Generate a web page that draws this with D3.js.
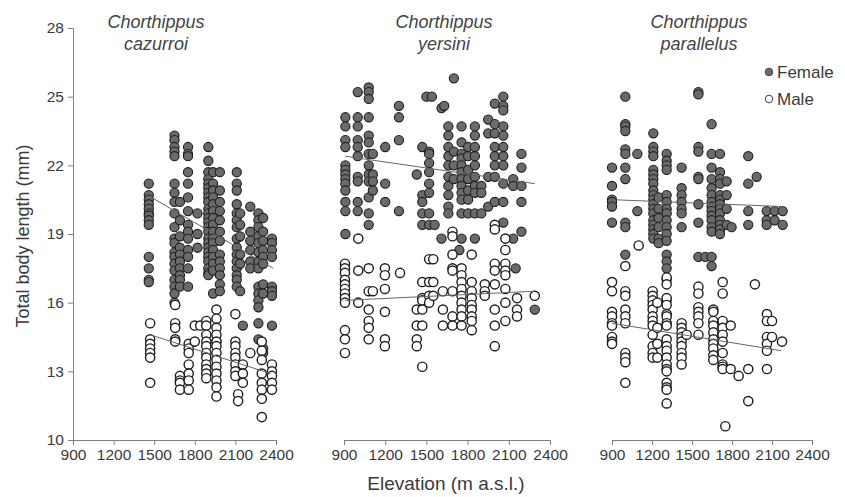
<!DOCTYPE html>
<html>
<head>
<meta charset="utf-8">
<script src="https://cdn.jsdelivr.net/npm/d3@7"></script>
<style>
  body { margin: 0; background: #fff; }
  svg { font-family: "Liberation Sans", Arial, sans-serif; }
</style>
</head>
<body>
<div id="chart"></div>
<script>
// columns: [elevation, [body lengths...]]
const cazurroiFemale = [
  [1460, [21.2, 20.7, 20.5, 20.3, 20.1, 19.9, 19.8, 19.6, 19.4, 18.0, 17.5, 17.0, 16.9]],
  [1650, [23.3, 23.1, 22.8, 22.6, 22.4, 21.2, 20.8, 20.4, 19.9, 19.3, 18.8, 18.6, 18.2, 18.0, 17.7, 17.4, 17.0, 16.7, 16.4, 16.0]],
  [1690, [20.4, 19.6, 18.9, 18.4, 18.1, 17.8, 17.5, 17.2, 17.0, 16.7]],
  [1750, [22.8, 22.5, 22.4, 21.7, 21.2, 20.6, 20.0, 19.4, 19.1, 18.8, 18.3, 18.0, 17.5, 16.7]],
  [1820, [19.9, 19.0, 18.4]],
  [1900, [22.8, 22.2, 21.7, 21.4, 21.2, 21.0, 20.8, 20.6, 20.4, 20.1, 19.9, 19.7, 19.5, 19.3, 19.1, 18.8, 18.6, 18.4, 18.2, 18.0, 17.8, 17.5, 17.3, 17.2]],
  [1935, [21.7, 21.2, 20.9, 20.6, 20.3, 20.0, 19.7, 19.4, 19.1, 18.8, 18.6, 18.3, 18.0, 17.7, 17.4, 16.4]],
  [1960, [14.3]],
  [1985, [21.7, 20.9, 20.4, 20.0, 19.6, 19.1, 18.7, 18.1, 17.8, 17.5, 17.2, 16.8, 16.5]],
  [2110, [21.7, 21.2, 20.9, 20.3, 19.9, 19.6, 19.3, 18.8, 18.4, 18.1, 17.8, 17.5, 17.2, 17.0, 16.7]],
  [2135, [19.9, 19.4, 18.9, 18.1, 17.7, 16.5]],
  [2155, [15.0]],
  [2210, [20.2, 19.1, 18.7, 18.3, 17.8, 17.5]],
  [2270, [19.9, 19.6, 19.3, 18.9, 18.6, 18.2, 17.8, 17.5, 16.7, 16.4, 16.1, 15.8, 15.1, 14.4]],
  [2305, [19.7, 19.1, 18.7, 18.3, 18.0, 17.7, 16.8, 16.4, 14.0, 13.8]],
  [2370, [18.8, 18.6, 18.3, 18.0, 16.7, 16.5, 16.3, 15.0]]
];
const cazurroiMale = [
  [1470, [15.1, 14.4, 14.2, 14.0, 13.8, 13.6, 12.5]],
  [1655, [15.9, 15.1, 14.9, 14.4, 14.3]],
  [1690, [12.8, 12.6, 12.5, 12.2]],
  [1755, [14.2, 14.0, 13.8, 13.3, 12.9, 12.6, 12.2]],
  [1800, [15.0, 14.3]],
  [1840, [15.0]],
  [1885, [15.2, 15.0, 14.6, 14.3, 14.1, 13.8, 13.6, 13.3, 13.1, 12.9, 12.7]],
  [1960, [15.7, 15.3, 14.9, 14.6, 14.3, 14.1, 13.8, 13.5, 13.2, 12.9, 12.6, 12.3, 11.9]],
  [2100, [15.5, 14.3, 14.1, 13.8, 13.6, 13.3, 13.0, 12.8]],
  [2120, [12.0, 11.7]],
  [2155, [13.3, 12.9, 12.5]],
  [2210, [13.8]],
  [2295, [14.3, 13.9, 13.5, 12.9, 12.5, 12.2, 11.8, 11.0]],
  [2370, [13.3, 13.0, 12.8, 12.5, 12.2]]
];

const yersiniFemale = [
  [910, [24.1, 23.7, 23.1, 22.8, 22.0, 21.8, 21.6, 21.4, 21.2, 20.9, 20.4, 20.0, 19.0]],
  [1000, [25.2, 24.1, 23.7, 23.1, 22.8, 22.4, 21.5, 21.3, 20.4, 20.0]],
  [1080, [25.4, 25.2, 24.9, 24.1, 23.3, 23.0, 22.5, 22.0, 21.6, 21.3, 20.6, 19.9, 19.4]],
  [1110, [22.5, 21.6, 21.3, 20.9]],
  [1200, [22.8, 21.2, 20.4]],
  [1300, [24.6, 24.1, 23.1, 20.0]],
  [1430, [21.6]],
  [1470, [22.8, 20.7, 20.4, 19.9, 19.4]],
  [1500, [25.0]],
  [1520, [22.6, 22.5, 22.1, 21.7, 21.2, 20.8, 19.9, 19.4]],
  [1540, [25.0]],
  [1560, [19.4]],
  [1610, [24.5, 18.8]],
  [1630, [24.6]],
  [1660, [23.7, 23.3, 22.8, 22.4, 22.0, 21.5, 21.1, 20.7, 20.2, 19.9]],
  [1700, [25.8, 22.6, 22.0, 21.4]],
  [1740, [18.3]],
  [1756, [23.7, 23.0, 22.5, 22.3, 22.0, 21.7, 21.4, 21.1, 20.8, 20.5, 19.9, 18.8]],
  [1804, [22.8, 22.4, 21.8, 21.4, 20.9, 20.5, 19.9]],
  [1853, [23.7, 23.3, 22.8, 22.4, 22.0, 21.5, 21.1, 20.8, 19.9, 18.8]],
  [1900, [21.1, 20.8, 19.9]],
  [1950, [24.0, 23.4, 21.5, 20.2]],
  [1998, [24.7, 23.8, 23.4, 22.8, 22.4, 22.0, 21.5, 20.4]],
  [2060, [25.0, 24.6, 24.4, 23.7, 23.3, 22.8, 22.4, 22.0, 21.2, 20.4, 19.5]],
  [2132, [21.4, 21.1, 18.8]],
  [2150, [17.5]],
  [2192, [22.5, 21.9, 21.1, 20.4, 19.1]],
  [2289, [15.7]]
];
const yersiniMale = [
  [907, [17.7, 17.5, 17.3, 17.0, 16.8, 16.6, 16.4, 16.2, 16.0, 14.8, 14.4, 13.8]],
  [1004, [18.8, 17.4, 16.0]],
  [1080, [17.5, 16.5, 15.7, 15.2, 14.9, 14.4]],
  [1110, [16.5]],
  [1198, [17.5, 17.2, 16.6, 15.6, 14.4, 14.1]],
  [1308, [17.3]],
  [1430, [15.7, 15.0, 14.4, 14.1]],
  [1470, [16.9, 16.2, 16.1, 15.7, 15.0, 13.2]],
  [1520, [17.9, 16.9, 16.3, 16.0]],
  [1550, [17.9, 16.9, 16.3]],
  [1620, [16.5, 15.7, 15.0]],
  [1690, [19.1, 18.9, 18.1, 17.5, 17.4, 16.5, 15.4, 15.0]],
  [1756, [17.5, 17.2, 16.9, 16.6, 16.3, 16.0, 15.7, 15.4, 15.0]],
  [1830, [18.1, 16.9, 16.5, 16.2, 15.9, 15.7, 15.4, 15.2, 14.8]],
  [1925, [16.8, 16.5, 16.3]],
  [1998, [19.4, 19.2, 17.7, 17.4, 16.8, 15.7, 15.0, 14.1]],
  [2075, [18.8, 18.3, 17.7, 17.4, 17.2, 16.6, 16.0, 15.2]],
  [2160, [16.2, 15.7, 15.4]],
  [2289, [16.3]]
];

const parallelusFemale = [
  [900, [21.9, 21.1, 20.5, 20.4, 20.2, 19.5, 16.9]],
  [1000, [25.0, 23.8, 23.7, 23.5, 22.7, 22.5, 21.9, 21.4, 19.5, 19.3, 18.1]],
  [1090, [22.5, 20.0]],
  [1210, [23.4, 22.8, 22.6, 22.4, 21.8, 21.6, 21.4, 21.2, 20.9, 20.7, 20.5, 20.3, 20.1, 19.9, 19.6, 19.4, 19.2, 19.0, 18.8]],
  [1250, [20.6, 20.1, 19.7, 19.3, 18.8, 18.6]],
  [1310, [22.5, 22.2, 22.0, 21.8, 20.7, 20.4, 20.1, 19.9, 19.6, 19.3, 19.0, 18.7, 18.1, 17.8, 17.5, 17.0, 16.1]],
  [1422, [21.9, 21.0, 20.7, 20.4, 20.1, 19.9, 19.3]],
  [1548, [25.2, 25.1, 22.8, 22.6, 21.5, 21.4, 20.3, 19.5, 18.0]],
  [1600, [18.0]],
  [1647, [23.8, 22.5, 21.9, 21.4, 21.0, 20.7, 20.4, 20.2, 20.0, 19.8, 19.6, 19.3, 19.1, 18.0, 17.6]],
  [1710, [22.5, 21.7, 21.4, 21.2, 20.7, 20.5, 20.3, 20.1, 19.9, 19.6, 19.4, 19.2, 19.0]],
  [1760, [21.3, 20.7, 20.1, 19.4]],
  [1797, [19.3]],
  [1922, [22.4, 21.2, 20.0, 19.4]],
  [1985, [21.5]],
  [2060, [20.0, 19.6, 19.4]],
  [2120, [20.0, 19.6]],
  [2180, [20.0, 19.4]]
];
const parallelusMale = [
  [900, [16.9, 16.5, 15.6, 15.4, 15.1, 15.0, 14.5, 14.3, 14.2]],
  [1000, [17.6, 16.5, 16.3, 15.7, 15.4, 15.1, 13.8, 13.6, 13.4, 12.5]],
  [1100, [18.5]],
  [1205, [16.5, 16.3, 16.1, 15.9, 15.7, 15.4, 15.2, 15.0, 14.6, 14.1, 13.8, 13.6]],
  [1240, [16.0, 14.9, 14.2, 13.6]],
  [1310, [17.1, 16.8, 16.2, 15.9, 15.5, 15.4, 15.1, 15.0, 14.4, 14.1, 13.9, 13.6, 13.3, 13.1, 13.0, 12.5, 12.3, 12.2, 11.6]],
  [1422, [15.1, 14.9, 14.7, 14.5, 14.3, 14.1, 13.8, 13.6, 13.3]],
  [1460, [14.6]],
  [1548, [16.7, 16.4, 15.8, 15.6, 15.4, 15.1, 14.6]],
  [1660, [15.7, 15.6, 15.2, 15.0, 14.7, 14.4, 14.2, 14.0, 13.7, 13.5]],
  [1730, [16.9, 16.4, 15.2, 14.9, 14.6, 14.3, 13.8, 13.3, 13.2, 13.1]],
  [1750, [10.6]],
  [1790, [15.0, 13.1]],
  [1850, [12.8]],
  [1922, [13.1, 11.7]],
  [1972, [16.8]],
  [2062, [15.5, 15.2, 14.5, 14.2, 13.9, 13.1]],
  [2100, [15.2, 14.5]],
  [2175, [14.3]]
];

// fitted trend lines, end points: [[elev, len], [elev, len]]
const cazurroiFits = { female: [[1480, 20.6], [2380, 17.5]], male: [[1470, 14.6], [2360, 12.9]] };
const yersiniFits = { female: [[907, 22.4], [2289, 21.2]], male: [[907, 16.1], [2289, 16.5]] };
const parallelusFits = { female: [[900, 20.5], [2180, 20.2]], male: [[900, 15.1], [2170, 13.9]] };

const species = [
  { name: "cazurroi", female: cazurroiFemale, male: cazurroiMale, fits: cazurroiFits, range: [73, 276], tx: 156 },
  { name: "yersini", female: yersiniFemale, male: yersiniMale, fits: yersiniFits, range: [344, 550], tx: 444 },
  { name: "parallelus", female: parallelusFemale, male: parallelusMale, fits: parallelusFits, range: [612, 812], tx: 699 }
];

const xTicks = [900, 1200, 1500, 1800, 2100, 2400];
const yTicks = [10, 13, 16, 19, 22, 25, 28];

const width = 845, height = 497;
const femaleFill = "#6a6a6a", stroke = "#1e1e1e", axisColor = "#808080", textColor = "#3a3a3a";

const flat = cols => cols.flatMap(([e, ls]) => ls.map(l => ({ e, l })));

const svg = d3.select("#chart").append("svg")
  .attr("width", width)
  .attr("height", height);

const y = d3.scaleLinear().domain([10, 28]).range([440, 28]);

// y axis only on first panel
const yAxis = svg.append("g")
  .attr("transform", `translate(${species[0].range[0]},0)`)
  .call(d3.axisLeft(y).tickValues(yTicks).tickFormat(d3.format("d")).tickSize(5).tickPadding(4));
yAxis.selectAll("path, line").attr("stroke", axisColor);
yAxis.selectAll("text").attr("fill", textColor).style("font-size", "15.5px");

svg.append("text")
  .attr("transform", "translate(29,236) rotate(-90)")
  .attr("text-anchor", "middle")
  .attr("fill", textColor)
  .style("font-size", "18px")
  .text("Total body length (mm)");

species.forEach(sp => {
  const x = d3.scaleLinear().domain([900, 2400]).range(sp.range);
  const g = svg.append("g");

  const xAxis = g.append("g")
    .attr("transform", "translate(0,440)")
    .call(d3.axisBottom(x).tickValues(xTicks).tickFormat(d3.format("d")).tickSize(5).tickPadding(4));
  xAxis.selectAll("path, line").attr("stroke", axisColor);
  xAxis.selectAll("text").attr("fill", textColor).style("font-size", "15.5px");

  const title = g.append("text")
    .attr("text-anchor", "middle")
    .attr("fill", "#444")
    .style("font-size", "18px")
    .style("font-style", "italic");
  title.append("tspan").attr("x", sp.tx).attr("y", 28).text("Chorthippus");
  title.append("tspan").attr("x", sp.tx).attr("y", 50).text(sp.name);

  g.selectAll("circle.female")
    .data(flat(sp.female))
    .enter().append("circle")
    .attr("class", "female")
    .attr("cx", d => x(d.e))
    .attr("cy", d => y(d.l))
    .attr("r", 4.6)
    .attr("fill", femaleFill)
    .attr("stroke", stroke)
    .attr("stroke-width", 1.1);

  g.selectAll("circle.male")
    .data(flat(sp.male))
    .enter().append("circle")
    .attr("class", "male")
    .attr("cx", d => x(d.e))
    .attr("cy", d => y(d.l))
    .attr("r", 4.6)
    .attr("fill", "#fff")
    .attr("stroke", stroke)
    .attr("stroke-width", 1.4);

  const line = d3.line().x(d => x(d[0])).y(d => y(d[1]));
  ["female", "male"].forEach(k => {
    g.append("path")
      .attr("d", line(sp.fits[k]))
      .attr("fill", "none")
      .attr("stroke", "#666")
      .attr("stroke-width", 1);
  });
});

svg.append("text")
  .attr("x", 446)
  .attr("y", 490)
  .attr("text-anchor", "middle")
  .attr("fill", textColor)
  .style("font-size", "19px")
  .text("Elevation (m a.s.l.)");

// legend
const legend = [
  { label: "Female", fill: femaleFill, y: 72 },
  { label: "Male", fill: "#fff", y: 99 }
];
const lg = svg.append("g");
lg.selectAll("circle")
  .data(legend)
  .enter().append("circle")
  .attr("cx", 769)
  .attr("cy", d => d.y)
  .attr("r", 3.8)
  .attr("fill", d => d.fill)
  .attr("stroke", "#444")
  .attr("stroke-width", 1);
lg.selectAll("text")
  .data(legend)
  .enter().append("text")
  .attr("x", 777)
  .attr("y", d => d.y + 6)
  .attr("fill", textColor)
  .style("font-size", "17px")
  .text(d => d.label);
</script>
</body>
</html>
